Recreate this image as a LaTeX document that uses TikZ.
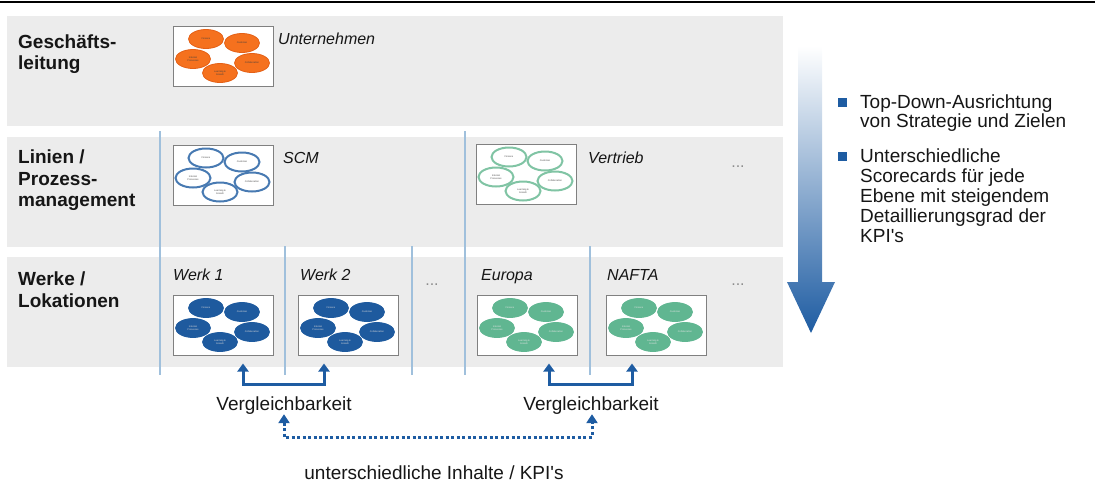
\documentclass[tikz,border=0pt]{standalone}
\usepackage{fontspec}
\setmainfont{Liberation Sans}[Ligatures=TeXOff]
\usetikzlibrary{shapes.geometric,arrows.meta,calc}
\definecolor{bandgray}{RGB}{236,236,236}
\definecolor{sepblue}{RGB}{160,192,220}
\definecolor{cardframe}{RGB}{128,128,128}
\definecolor{orangefill}{RGB}{245,113,30}
\definecolor{orangeedge}{RGB}{228,96,22}
\definecolor{scmblue}{RGB}{72,122,178}
\definecolor{vertgreen}{RGB}{128,196,164}
\definecolor{werkblue}{RGB}{30,90,158}
\definecolor{eurogreen}{RGB}{96,182,145}
\definecolor{arrowblue}{RGB}{30,92,162}
\definecolor{textdark}{RGB}{22,22,22}
\definecolor{dotgray}{RGB}{140,140,140}
\tikzset{
  levellabel/.style={anchor=base west, inner sep=0pt, font=\fontsize{19}{21}\selectfont\bfseries, text=textdark},
  unitlabel/.style={anchor=base west, inner sep=0pt, font=\fontsize{16}{18}\selectfont\itshape, text=textdark},
  bodytext/.style={anchor=base west, inner sep=0pt, font=\fontsize{19}{20}\selectfont, text=textdark},
  centertext/.style={anchor=base, inner sep=0pt, font=\fontsize{19}{20}\selectfont, text=textdark},
  moredots/.style={anchor=base, inner sep=0pt, font=\fontsize{16}{16}\selectfont, text=dotgray},
  band/.style={fill=bandgray},
  sepline/.style={draw=sepblue, line width=1.2pt},
  bulletsq/.style={fill=arrowblue, minimum size=9pt, inner sep=0pt},
  cardbox/.style={draw=cardframe, fill=white, line width=1pt, minimum width=100pt, minimum height=60pt, inner sep=0pt},
  ell/.style={ellipse, inner sep=0pt, minimum width=35pt, minimum height=19pt, align=center, font=\fontsize{2.4}{2.7}\selectfont},
  orangeell/.style={ell, fill=orangefill, draw=orangeedge, line width=0.8pt, text=black!75},
  scmell/.style={ell, fill=white, draw=scmblue, line width=2pt, text=black!70},
  vertell/.style={ell, fill=white, draw=vertgreen, line width=2pt, text=black!70},
  werkell/.style={ell, fill=werkblue, draw=werkblue, line width=0.8pt, text=white!85!black},
  euroell/.style={ell, fill=eurogreen, draw=eurogreen, line width=0.8pt, text=white!90!black},
  bracket/.style={draw=arrowblue, line width=3pt, line join=miter,
    {Triangle[width=11pt,length=8pt]}-{Triangle[width=11pt,length=8pt]},
    shorten <=8pt, shorten >=8pt},
  dotbracket/.style={draw=arrowblue, line width=3pt, dash pattern=on 3pt off 2.5pt,
    {Triangle[width=11pt,length=9pt]}-{Triangle[width=11pt,length=9pt]}},
  pics/card/.style={code={
    \node[cardbox] (-box) at (50,30) {};
    \node[#1] (-fin) at (33,13) {Finance};
    \node[#1] (-cus) at (69,17) {Customer};
    \node[#1] (-int) at (20,33) {Internal\\Processes};
    \node[#1] (-col) at (79,37) {Collaboration};
    \node[#1] (-lea) at (47,47) {Learning \&\\Growth};
  }}
}
\begin{document}
\begin{tikzpicture}[x=1pt,y=-1pt]
\useasboundingbox (0,0) rectangle (1095,488);
% top rule
\draw[line width=1.5pt, black] (0,2) -- (1095,2);
% bands
\fill[band] (7,16) rectangle (783,126);
\fill[band] (7,137) rectangle (783,247);
\fill[band] (7,257) rectangle (783,367);
% separator lines
\draw[sepline] (160,131) -- (160,375);
\draw[sepline] (465,131) -- (465,375);
\draw[sepline] (285,246) -- (285,375);
\draw[sepline] (412,246) -- (412,375);
\draw[sepline] (590,246) -- (590,375);
% level labels
\node[levellabel] (l1a) at (18,48) {Geschäfts-};
\node[levellabel] (l1b) at (18,69) {leitung};
\node[levellabel] (l2a) at (18,163) {Linien /};
\node[levellabel] (l2b) at (18,185) {Prozess-};
\node[levellabel] (l2c) at (18,206) {management};
\node[levellabel] (l3a) at (18,285) {Werke /};
\node[levellabel] (l3b) at (18,307) {Lokationen};
% scorecards
\pic (gl) at (173,26) {card=orangeell};
\pic (scm) at (173,145) {card=scmell};
\pic (vt) at (476,144) {card=vertell};
\pic (w1) at (173,295) {card=werkell};
\pic (w2) at (298,295) {card=werkell};
\pic (eu) at (477,295) {card=euroell};
\pic (na) at (606,295) {card=euroell};
% unit labels
\node[unitlabel] (u1) at (278,44) {Unternehmen};
\node[unitlabel] (u2) at (283,163) {SCM};
\node[unitlabel] (u3) at (588,163) {Vertrieb};
\node[unitlabel] (u4) at (173,280) {Werk 1};
\node[unitlabel] (u5) at (300,280) {Werk 2};
\node[unitlabel] (u6) at (481,280) {Europa};
\node[unitlabel] (u7) at (607,280) {NAFTA};
% more dots
\node[moredots] (m1) at (738,167) {...};
\node[moredots] (m2) at (738,285) {...};
\node[moredots] (m3) at (432,285) {...};
% big gradient arrow
\shade[top color=white, bottom color=arrowblue]
  (798,46) -- (822,46) -- (822,282) -- (835,282) -- (811,333) -- (787,282) -- (798,282) -- cycle;
% bullets
\node[bulletsq] (bu1) at (842,102) {};
\node[bodytext] (t1a) at (860,108) {Top-Down-Ausrichtung};
\node[bodytext] (t1b) at (860,127) {von Strategie und Zielen};
\node[bulletsq] (bu2) at (842,156) {};
\node[bodytext] (t2a) at (860,162) {Unterschiedliche};
\node[bodytext] (t2b) at (860,182) {Scorecards für jede};
\node[bodytext] (t2c) at (860,202) {Ebene mit steigendem};
\node[bodytext] (t2d) at (860,222) {Detaillierungsgrad der};
\node[bodytext] (t2e) at (860,242) {KPI's};
% comparability brackets
\coordinate (b1l) at (243,384);
\coordinate (b1r) at (324,384);
\coordinate (b2l) at (549,384);
\coordinate (b2r) at (632,384);
\draw[bracket] (b1l |- w1-box.south) -- (b1l) -- (b1r) -- (b1r |- w2-box.south);
\draw[bracket] (b2l |- eu-box.south) -- (b2l) -- (b2r) -- (b2r |- na-box.south);
\node[centertext] (vg1) at (284,410) {Vergleichbarkeit};
\node[centertext] (vg2) at (591,410) {Vergleichbarkeit};
% different contents
\coordinate (d1) at (284,437);
\coordinate (d2) at (592,437);
\draw[dotbracket] (vg1.south -| d1) -- (d1) -- (d2) -- (vg2.south -| d2);
\node[centertext] (uk) at (434,479) {unterschiedliche Inhalte / KPI's};
\end{tikzpicture}
\end{document}
